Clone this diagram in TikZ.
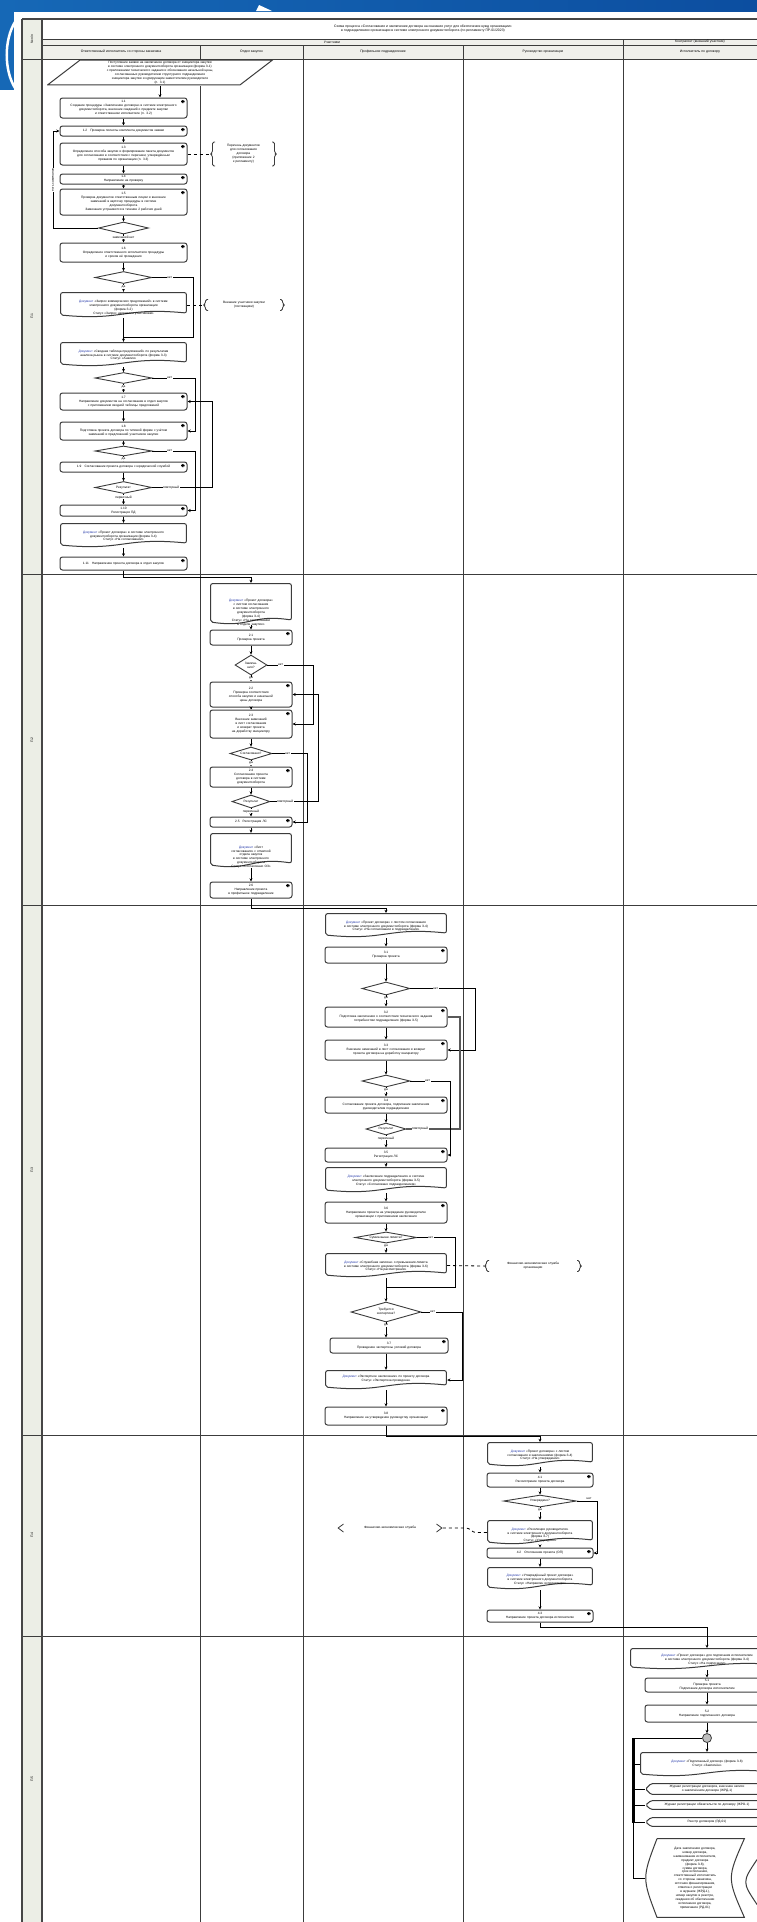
\documentclass[tikz,border=0pt]{standalone}
\usepackage{fontspec}
\setmainfont{Liberation Sans}
\usepackage{tikz}
\usetikzlibrary{shapes.geometric, arrows.meta, positioning, calc}
\definecolor{biruLatar}{RGB}{22,104,182}
\definecolor{biruTua}{RGB}{12,78,160}
\definecolor{abuKolom}{RGB}{236,238,230}
\definecolor{abuKepala}{RGB}{240,240,236}
\definecolor{abuGaris}{RGB}{60,60,60}
\definecolor{biruTeks}{RGB}{40,60,170}
\newcommand{\hurufKecil}{\fontsize{3.2}{3.9}\selectfont}
\newcommand{\hurufKepala}{\fontsize{3.4}{4.1}\selectfont}

\begin{document}
\begin{tikzpicture}[x=1pt, y=-1pt,
  kotakDasar/.style={align=center, font=\hurufKecil, inner sep=1pt, fill=white},
  garisTepi/.style={draw=abuGaris, line width=1pt},
  kotak/.style={kotakDasar, garisTepi, rounded corners=2.5pt,
    path picture={\fill[black] ([xshift=-2.5pt,yshift=-2pt]path picture bounding box.north east) rectangle ++(-3.5pt,-3pt);}},
  dokumen/.style={kotakDasar, text depth=7pt,
    path picture={\draw[garisTepi, rounded corners=2pt]
      ([xshift=0.6pt,yshift=-0.6pt]path picture bounding box.north west)
      -- ([xshift=-0.6pt,yshift=-0.6pt]path picture bounding box.north east)
      -- ([xshift=-0.6pt,yshift=5pt]path picture bounding box.south east)
      .. controls ([yshift=11pt]path picture bounding box.south) and ([yshift=-3pt]path picture bounding box.south)
      .. ([xshift=0.6pt,yshift=3pt]path picture bounding box.south west) -- cycle;}},
  masukan/.style={kotakDasar,
    path picture={\draw[garisTepi]
      ([xshift=0.6pt,yshift=0.6pt]path picture bounding box.south west)
      -- ([xshift=33pt,yshift=-0.6pt]path picture bounding box.north west)
      -- ([xshift=-0.6pt,yshift=-0.6pt]path picture bounding box.north east)
      -- ([xshift=-33pt,yshift=0.6pt]path picture bounding box.south east) -- cycle;}},
  keputusan/.style={diamond, aspect=4, draw=abuGaris, line width=0.9pt, fill=white,
    inner sep=0pt, font=\hurufKecil, align=center},
  catatan/.style={kotakDasar,
    path picture={\draw[draw=abuGaris, line width=0.8pt, rounded corners=1.5pt]
      ([xshift=5pt,yshift=-0.5pt]path picture bounding box.north west)
      -- ([xshift=2.5pt,yshift=-0.5pt]path picture bounding box.north west)
      -- ([xshift=2.5pt,yshift=1.5pt]path picture bounding box.west)
      -- ([xshift=0.5pt]path picture bounding box.west)
      -- ([xshift=2.5pt,yshift=-1.5pt]path picture bounding box.west)
      -- ([xshift=2.5pt,yshift=0.5pt]path picture bounding box.south west)
      -- ([xshift=5pt,yshift=0.5pt]path picture bounding box.south west);
      \draw[draw=abuGaris, line width=0.8pt, rounded corners=1.5pt]
      ([xshift=-5pt,yshift=-0.5pt]path picture bounding box.north east)
      -- ([xshift=-2.5pt,yshift=-0.5pt]path picture bounding box.north east)
      -- ([xshift=-2.5pt,yshift=1.5pt]path picture bounding box.east)
      -- ([xshift=-0.5pt]path picture bounding box.east)
      -- ([xshift=-2.5pt,yshift=-1.5pt]path picture bounding box.east)
      -- ([xshift=-2.5pt,yshift=0.5pt]path picture bounding box.south east)
      -- ([xshift=-5pt,yshift=0.5pt]path picture bounding box.south east);}},
  catatanSudut/.style={kotakDasar,
    path picture={\draw[draw=abuGaris, line width=0.8pt]
      ([xshift=6pt,yshift=-0.5pt]path picture bounding box.north west)
      -- ([xshift=0.6pt]path picture bounding box.west)
      -- ([xshift=6pt,yshift=0.5pt]path picture bounding box.south west);
      \draw[draw=abuGaris, line width=0.8pt]
      ([xshift=-6pt,yshift=-0.5pt]path picture bounding box.north east)
      -- ([xshift=-0.6pt]path picture bounding box.east)
      -- ([xshift=-6pt,yshift=0.5pt]path picture bounding box.south east);}},
  tampilan/.style={kotakDasar,
    path picture={\draw[garisTepi, rounded corners=1.5pt]
      ([xshift=6pt,yshift=-0.6pt]path picture bounding box.north west)
      -- ([xshift=-0.6pt,yshift=-0.6pt]path picture bounding box.north east)
      -- ([xshift=-0.6pt,yshift=0.6pt]path picture bounding box.south east)
      -- ([xshift=6pt,yshift=0.6pt]path picture bounding box.south west)
      -- ([xshift=0.6pt]path picture bounding box.west) -- cycle;}},
  simpan/.style={kotakDasar,
    path picture={\draw[garisTepi]
      ([xshift=12pt,yshift=-0.6pt]path picture bounding box.north west)
      -- ([xshift=-0.6pt,yshift=-0.6pt]path picture bounding box.north east)
      .. controls ([xshift=-18pt]path picture bounding box.east) .. ([xshift=-0.6pt,yshift=0.6pt]path picture bounding box.south east)
      -- ([xshift=12pt,yshift=0.6pt]path picture bounding box.south west)
      .. controls ([xshift=-3pt]path picture bounding box.west) .. ([xshift=12pt,yshift=-0.6pt]path picture bounding box.north west);}},
  titik/.style={circle, draw=abuGaris, line width=0.8pt, fill=gray!50, minimum size=9pt, inner sep=0pt},
  garis/.style={draw=black, line width=0.9pt},
  panah/.style={garis, -{Stealth[length=3.2pt, width=3pt]}},
  putus/.style={draw=black, line width=0.8pt, dashed},
  tebal/.style={draw=gray!70!black, line width=2.6pt},
  ket/.style={font=\hurufKecil, inner sep=0.5pt, fill=white},
  lajur1/.style={minimum width=127, text width=121},
  lajur2/.style={minimum width=82, text width=78},
  lajur3/.style={minimum width=122, text width=116},
  lajur4/.style={minimum width=106, text width=100},
  lajur5/.style={minimum width=124, text width=118},
  tepi/.style={draw=gray!55!black, line width=1.6pt},
  tabel/.style={draw=abuGaris, line width=0.7pt}
]
  \useasboundingbox (0,0) rectangle (757,1922);

  % latar biru
  \shade[left color=biruLatar, right color=biruTua] (0,0) rectangle (757,11);
  \fill[biruLatar] (0,0) rectangle (14,90);
  \fill[white] (256,11) -- (259,5) -- (272,11) -- cycle;
  \draw[white, line width=2.5pt] (15,22) .. controls (4,40) and (4,70) .. (15,88);

  % tabel
  \fill[abuKolom] (22,19) rectangle (42,1922);
  \fill[abuKepala] (42,39) rectangle (757,59);
  \draw[tabel] (42,39) -- (757,39);
  \draw[tabel] (42,45) -- (757,45);
  \draw[tabel] (22,59) -- (757,59);
  \foreach \y in {574,905,1435,1636} \draw[tabel] (22,\y) -- (757,\y);
  \foreach \x in {200,303,463} \draw[tabel] (\x,45) -- (\x,1922);
  \draw[tabel] (623,39) -- (623,1922);
  \draw[tepi] (22,19) -- (757,19);
  \draw[tepi] (22,19) -- (22,1922);
  \draw[tepi] (42,19) -- (42,1922);

  \node[font=\hurufKepala, rotate=90] (nomor) at (32,39) {№ п/п};
  \node[font=\hurufKepala, align=center] (judul) at (423,29)
    {Схема процесса «Согласование и заключение договора на оказание услуг для обеспечения нужд организации»\\
     в подразделениях организации в системе электронного документооборота (по регламенту ПР-01/2023)};
  \node[font=\hurufKepala, inner sep=0pt] (peserta) at (332,42) {Участники};
  \node[font=\hurufKepala, inner sep=0pt] (kontra) at (700,42) {Контрагент (внешний участник)};
  \node[font=\hurufKepala] (kol1) at (121,52) {Ответственный исполнитель со стороны заказчика};
  \node[font=\hurufKepala] (kol2) at (251.5,52) {Отдел закупок};
  \node[font=\hurufKepala] (kol3) at (383,52) {Профильное подразделение};
  \node[font=\hurufKepala] (kol4) at (543,52) {Руководство организации};
  \node[font=\hurufKepala] (kol5) at (700,52) {Исполнитель по договору};
  \node[font=\hurufKepala, rotate=90] (tahap1) at (32,316) {П.1};
  \node[font=\hurufKepala, rotate=90] (tahap2) at (32,740) {П.2};
  \node[font=\hurufKepala, rotate=90] (tahap3) at (32,1170) {П.3};
  \node[font=\hurufKepala, rotate=90] (tahap4) at (32,1535) {П.4};
  \node[font=\hurufKepala, rotate=90] (tahap5) at (32,1779) {П.5};

  % lajur 1
  \node[masukan, minimum width=226, minimum height=26, text width=150] (mulai) at (160,72.5)
    {Поступление заявки на заключение договора от инициатора закупки\\ в системе электронного документооборота организации (форма З-1)\\
     с приложением технического задания и обоснования начальной цены,\\ согласованных руководителем структурного подразделения\\
     инициатора закупки и курирующим заместителем руководителя\\ (п. 3.1)};
  \node[kotak, lajur1, minimum height=20] (a1) at (123.5,108)
    {1.1\\ Создание процедуры «Заключение договора» в системе электронного\\ документооборота, внесение сведений о предмете закупки\\ и ответственном исполнителе (п. 3.2)};
  \node[kotak, lajur1, minimum height=10] (a2) at (123.5,131) {1.2\quad Проверка полноты комплекта документов заявки};
  \node[kotak, lajur1, minimum height=22] (a3) at (123.5,154)
    {1.3\\ Определение способа закупки и формирование пакета документов\\ для согласования в соответствии с перечнем, утверждённым\\ приказом по организации (п. 3.3)};
  \node[catatan, minimum width=67, text width=54, minimum height=25] (cat1) at (243.5,154)
    {Перечень документов\\ для согласования\\ договора\\ (приложение 2\\ к регламенту)};
  \node[kotak, lajur1, minimum height=10] (a4) at (123.5,179) {1.4\\ Направление на проверку};
  \node[kotak, lajur1, minimum height=26] (a5) at (123.5,202)
    {1.5\\ Проверка документов ответственным лицом и внесение\\ замечаний в карточку процедуры в системе\\ документооборота\\ Замечания устраняются в течение 2 рабочих дней};
  \node[keputusan, minimum width=50, minimum height=12] (k1) at (123.5,228) {};
  \node[kotak, lajur1, minimum height=19] (a6) at (123.5,252.5)
    {1.6\\ Определение ответственного исполнителя процедуры\\ и сроков её проведения};
  \node[keputusan, minimum width=57, minimum height=12] (k2) at (123.5,277.5) {};
  \node[dokumen, lajur1, minimum height=26] (d1) at (123.5,305)
    {\textcolor{biruTeks}{Документ} «Запрос коммерческих предложений» в системе\\ электронного документооборота организации\\ (форма З-2)\\ Статус «Запрос направлен участникам»};
  \node[catatan, minimum width=82, text width=68, minimum height=12] (cat2) at (244,305)
    {Внешние участники закупки\\ (поставщики)};
  \coordinate (g1) at (123.5,337);
  \node[dokumen, lajur1, minimum height=25] (d2) at (123.5,354.5)
    {\textcolor{biruTeks}{Документ} «Сводная таблица предложений» по результатам\\ анализа рынка в системе документооборота (форма З-3)\\ Статус «Анализ»};
  \node[keputusan, minimum width=57, minimum height=11] (k3) at (123.5,378) {};
  \node[kotak, lajur1, minimum height=17] (a7) at (123.5,401.5)
    {1.7\\ Направление документов на согласование в отдел закупок\\ с приложением сводной таблицы предложений};
  \node[kotak, lajur1, minimum height=18] (a8) at (123.5,431)
    {1.8\\ Подготовка проекта договора по типовой форме с учётом\\ замечаний и предложений участников закупки};
  \node[keputusan, minimum width=57, minimum height=10] (k4) at (123.5,451) {};
  \node[kotak, lajur1, minimum height=10] (a9) at (123.5,467) {1.9\quad Согласование проекта договора с юридической службой};
  \node[keputusan, minimum width=57, minimum height=12] (k5) at (123.5,487.5) {Результат};
  \node[kotak, lajur1, minimum height=11] (a10) at (123.5,510.5) {1.10\\ Регистрация ПД};
  \node[dokumen, lajur1, minimum height=25] (d3) at (123.5,535.5)
    {\textcolor{biruTeks}{Документ} «Проект договора» в системе электронного\\ документооборота организации (форма З-4)\\ Статус «На согласовании»};
  \node[kotak, lajur1, minimum height=13] (a11) at (123.5,563.5) {1.11\quad Направление проекта договора в отдел закупок};

  \draw[panah] (mulai.south) -- (mulai.south |- a1.north);
  \draw[panah] (a1) -- (a2);
  \draw[panah] (a2) -- (a3);
  \draw[panah] (a3) -- (a4);
  \draw[panah] (a4) -- (a5);
  \draw[panah] (a5) -- (k1);
  \draw[panah] (k1) -- (a6);
  \draw[panah] (a6) -- (k2);
  \draw[panah] (k2) -- (d1);
  \draw[panah] (d1) -- (d2);
  \draw[panah] (d2) -- (k3);
  \draw[panah] (k3) -- (a7);
  \draw[panah] (a7) -- (a8);
  \draw[panah] (a8) -- (k4);
  \draw[panah] (k4) -- (a9);
  \draw[panah] (a9) -- (k5);
  \draw[panah] (k5) -- (a10);
  \draw[panah] (a10) -- (d3);
  \draw[panah] (d3) -- (a11);
  \draw[panah] (k1.west) -| (53,131) -- (a2.west);
  \draw[garis] (k2.east) -| (193,337) -- (g1);
  \draw[panah] (k3.east) -| (195,431) -- (a8.east);
  \draw[panah] (k4.east) -| (195,510.5) -- (a10.east);
  \draw[panah] (k5.east) -| (212,401.5) -- (a7.east);
  \draw[putus] (a3.east) -- (cat1.west);
  \draw[putus] (d1.east) -- (cat2.west);
  \node[ket, rotate=90] (l1a) at (53,180) {есть замечания};
  \node[ket, below=1pt of k1.south] (l1b) {замечаний нет};
  \node[ket, right=14pt of k2.east] (l2a) {нет};
  \node[ket, below=1pt of k2.south] (l2b) {да};
  \node[ket, right=14pt of k3.east] (l3a) {нет};
  \node[ket, below=1pt of k3.south] (l3b) {да};
  \node[ket, right=14pt of k4.east] (l4a) {нет};
  \node[ket, below=0.5pt of k4.south] (l4b) {да};
  \node[ket, right=10pt of k5.east] (l5a) {повторный};
  \node[ket, below=1pt of k5.south] (l5b) {первичный};

  % lajur 2
  \coordinate (t12) at (251,577);
  \draw[panah] (a11.south) |- (t12) -- (251,583);
  \node[dokumen, lajur2, minimum height=42] (p1) at (251,604)
    {\textcolor{biruTeks}{Документ} «Проект договора»\\ с листом согласования\\ в системе электронного\\ документооборота\\ (форма З-4)\\ Статус «На согласовании\\ в отделе закупок»};
  \node[kotak, lajur2, minimum height=15] (p2) at (251,637.5) {2.1\\ Проверка проекта};
  \node[keputusan, aspect=2, minimum width=32, minimum height=20] (k6) at (251,665) {Замеча-\\ния?};
  \node[kotak, lajur2, minimum height=25] (p3) at (251,694.5)
    {2.2\\ Проверка соответствия\\ способа закупки и начальной\\ цены договора};
  \node[kotak, lajur2, minimum height=28] (p4) at (251,724)
    {2.3\\ Внесение замечаний\\ в лист согласования\\ и возврат проекта\\ на доработку инициатору};
  \node[keputusan, minimum width=42, minimum height=13] (k7) at (251,753.5) {Согласовано?};
  \node[kotak, lajur2, minimum height=20] (p5) at (251,777)
    {2.4\\ Согласование проекта\\ договора в системе\\ документооборота};
  \node[keputusan, minimum width=38, minimum height=13] (k8) at (251,801.5) {Результат};
  \node[kotak, lajur2, minimum height=10] (p6) at (251,822) {2.5\quad Регистрация ЛС};
  \node[dokumen, lajur2, minimum height=35] (p7) at (251,850.5)
    {\textcolor{biruTeks}{Документ} «Лист\\ согласования» с отметкой\\ отдела закупок\\ в системе электронного\\ документооборота\\ Статус «Согласовано ОЗ»};
  \node[kotak, lajur2, minimum height=16] (p8) at (251,890)
    {2.6\\ Направление проекта\\ в профильное подразделение};

  \draw[panah] (p1) -- (p2);
  \draw[panah] (p2) -- (k6);
  \draw[panah] (k6) -- (p3);
  \draw[panah] (p3) -- (p4);
  \draw[panah] (p4) -- (k7);
  \draw[panah] (k7) -- (p5);
  \draw[panah] (p5) -- (k8);
  \draw[panah] (k8) -- (p6);
  \draw[panah] (p6) -- (p7);
  \draw[panah] (p7) -- (p8);
  \draw[panah] (k6.east) -| (313,724) -- (p4.east);
  \draw[panah] (k8.east) -| (318,694.5) -- (p3.east);
  \draw[panah] (k7.east) -| (307,822) -- (p6.east);
  \node[ket, right=10pt of k6.east] (l6a) {нет};
  \node[ket, below=1pt of k6.south] (l6b) {да};
  \node[ket, right=12pt of k7.east] (l7a) {нет};
  \node[ket, below=0.5pt of k7.south] (l7b) {да};
  \node[ket, right=6pt of k8.east] (l8a) {повторный};
  \node[ket, below=0.5pt of k8.south] (l8b) {первичный};

  % lajur 3
  \coordinate (t23) at (386,908);
  \draw[panah] (p8.south) |- (t23) -- (386,913);
  \node[dokumen, lajur3, minimum height=25] (q1) at (386,925.5)
    {\textcolor{biruTeks}{Документ} «Проект договора» с листом согласования\\ в системе электронного документооборота (форма З-4)\\ Статус «На согласовании в подразделении»};
  \node[kotak, lajur3, minimum height=16] (q2) at (386,955) {3.1\\ Проверка проекта};
  \node[keputusan, minimum width=48, minimum height=13] (k9) at (386,988.5) {};
  \node[kotak, lajur3, minimum height=20] (q3) at (386,1017)
    {3.2\\ Подготовка заключения о соответствии технического задания\\ потребностям подразделения (форма З-5)};
  \node[kotak, lajur3, minimum height=20] (q4) at (386,1050)
    {3.3\\ Внесение замечаний в лист согласования и возврат\\ проекта договора на доработку инициатору};
  \node[keputusan, minimum width=48, minimum height=12] (k10) at (386,1081) {};
  \node[kotak, lajur3, minimum height=16] (q5) at (386,1105)
    {3.4\\ Согласование проекта договора, подписание заключения\\ руководителем подразделения};
  \node[keputusan, minimum width=40, minimum height=12] (k11) at (386,1129) {Результат};
  \node[kotak, lajur3, minimum height=14] (q6) at (386,1155) {3.5\\ Регистрация ЛС};
  \node[dokumen, lajur3, minimum height=26] (q7) at (386,1180)
    {\textcolor{biruTeks}{Документ} «Заключение подразделения» в системе\\ электронного документооборота (форма З-5)\\ Статус «Согласовано подразделением»};
  \node[kotak, lajur3, minimum height=21] (q8) at (386,1212.5)
    {3.6\\ Направление проекта на утверждение руководителю\\ организации с приложением заключения};
  \node[keputusan, minimum width=62, minimum height=11] (k12) at (386,1237.5) {Сумма выше лимита?};
  \node[dokumen, lajur3, minimum height=25] (q9) at (386,1265.5)
    {\textcolor{biruTeks}{Документ} «Служебная записка» о превышении лимита\\ в системе электронного документооборота (форма З-6)\\ Статус «На рассмотрении»};
  \node[catatan, minimum width=98, text width=84, minimum height=12] (cat3) at (533,1266)
    {Финансово-экономическая служба\\ организации};
  \coordinate (g3) at (386,1287);
  \node[keputusan, aspect=3, minimum width=70, minimum height=20] (k13) at (386,1312) {Требуется\\ экспертиза?};
  \node[kotak, lajur3, minimum width=112, minimum height=15] (q10) at (389,1345.5)
    {3.7\\ Проведение экспертизы условий договора};
  \node[dokumen, lajur3, minimum height=20] (q11) at (386,1380)
    {\textcolor{biruTeks}{Документ} «Экспертное заключение» по проекту договора\\ Статус «Экспертиза проведена»};
  \node[kotak, lajur3, minimum height=18] (q12) at (386,1416)
    {3.8\\ Направление на утверждение руководству организации};

  \draw[panah] (q1) -- (q2);
  \draw[panah] (q2) -- (k9);
  \draw[panah] (k9) -- (q3);
  \draw[panah] (q3) -- (q4);
  \draw[panah] (q4) -- (k10);
  \draw[panah] (k10) -- (q5);
  \draw[panah] (q5) -- (k11);
  \draw[panah] (k11) -- (q6);
  \draw[panah] (q6) -- (q7);
  \draw[panah] (q7) -- (q8);
  \draw[panah] (q8) -- (k12);
  \draw[panah] (k12) -- (q9);
  \draw[panah] (q9) -- (k13);
  \draw[panah] (k13) -- (k13.south |- q10.north);
  \draw[panah] (k13.south |- q10.south) -- (k13.south |- q11.north);
  \draw[panah] (q11) -- (q12);
  \draw[panah] (k9.east) -| (475,1050) -- (q4.east);
  \draw[tebal] (k11.east) -| (460,1017) -- (q3.east);
  \draw[panah] (k10.east) -| (450,1155) -- (q6.east);
  \draw[garis] (k12.east) -| (455,1287) -- (g3);
  \draw[panah] (k13.east) -| (462,1380) -- (q11.east);
  \draw[putus] (q9.east) -- (cat3.west);
  \node[ket, right=22pt of k9.east] (l9a) {нет};
  \node[ket, below=1pt of k9.south] (l9b) {да};
  \node[ket, right=14pt of k10.east] (l10a) {нет};
  \node[ket, below=0.5pt of k10.south] (l10b) {да};
  \node[ket, right=5pt of k11.east] (l11a) {повторный};
  \node[ket, below=0.5pt of k11.south] (l11b) {первичный};
  \node[ket, right=10pt of k12.east] (l12a) {нет};
  \node[ket, below=0.5pt of k12.south] (l12b) {да};
  \node[ket, right=8pt of k13.east] (l13a) {нет};
  \node[ket, below=1pt of k13.south] (l13b) {да};

  % lajur 4
  \coordinate (t34) at (540,1436);
  \draw[panah] (q12.south) |- (t34) -- (540,1442);
  \node[dokumen, lajur4, minimum height=25] (r1) at (540,1454.5)
    {\textcolor{biruTeks}{Документ} «Проект договора» с листом\\ согласования и заключениями (форма З-4)\\ Статус «На утверждении»};
  \node[kotak, lajur4, minimum height=14] (r2) at (540,1480) {4.1\\ Рассмотрение проекта договора};
  \node[keputusan, minimum width=73, minimum height=12] (k14) at (540,1501) {Утверждено?};
  \node[dokumen, lajur4, minimum height=25] (r3) at (540,1532.5)
    {\textcolor{biruTeks}{Документ} «Резолюция руководителя»\\ в системе электронного документооборота\\ (форма З-7)\\ Статус «Утверждено»};
  \node[catatanSudut, minimum width=105, text width=90, minimum height=9] (cat4) at (390,1528)
    {Финансово-экономическая служба};
  \node[kotak, lajur4, minimum height=10] (r4) at (540,1553) {4.2\quad Отклонение проекта (ОП)};
  \node[dokumen, lajur4, minimum height=23] (r5) at (540,1578.5)
    {\textcolor{biruTeks}{Документ} «Утверждённый проект договора»\\ в системе электронного документооборота\\ Статус «Направлен исполнителю»};
  \node[kotak, lajur4, minimum height=12] (r6) at (540,1616) {4.3\\ Направление проекта договора исполнителю};

  \draw[panah] (r1) -- (r2);
  \draw[panah] (r2) -- (k14);
  \draw[panah] (k14) -- (r3);
  \draw[panah] (r3) -- (r4);
  \draw[panah] (r4) -- (r5);
  \draw[panah] (r5) -- (r6);
  \draw[panah] (k14.east) -| (597,1553) -- (r4.east);
  \draw[putus] (r3.west) -- (476,1532.5) to[out=180,in=0] (466,1528) -- (cat4.east);
  \node[ket, above right=0.5pt and 9pt of k14.east] (l14a) {нет};
  \node[ket, below=0.5pt of k14.south] (l14b) {да};

  % lajur 5
  \coordinate (t45) at (707,1627);
  \draw[panah] (r6.south) |- (t45) -- (707,1648);
  \node[dokumen, lajur5, minimum width=154, text width=140, minimum height=22] (s1) at (707,1659)
    {\textcolor{biruTeks}{Документ} «Проект договора» для подписания исполнителем\\ в системе электронного документооборота (форма З-4)\\ Статус «На подписании»};
  \node[kotak, lajur5, minimum height=14] (s2) at (707,1685)
    {5.1\\ Проверка проекта\\ Подписание договора исполнителем};
  \node[kotak, lajur5, minimum height=17] (s3) at (707,1713.5)
    {5.2\\ Направление подписанного договора};
  \node[titik] (gabung) at (707,1738) {};
  \node[dokumen, lajur5, minimum width=134, text width=120, minimum height=25] (s4) at (707,1764.5)
    {\textcolor{biruTeks}{Документ} «Подписанный договор» (форма З-8)\\ Статус «Заключён»};
  \node[tampilan, lajur5, minimum height=12] (s5a) at (707,1789)
    {Журнал регистрации договоров, внесение записи\\ о заключённом договоре (ЖРД-1)};
  \node[tampilan, lajur5, minimum height=10] (s5b) at (707,1805)
    {Журнал регистрации обязательств по договору (ЖРО-1)};
  \node[tampilan, lajur5, minimum height=10] (s5c) at (707,1822)
    {Реестр договоров (РД-01)};
  \node[simpan, minimum width=100, text width=70, minimum height=80] (s6) at (695,1878)
    {Дата заключения договора,\\ номер договора,\\ наименование исполнителя,\\ предмет договора\\ (форма З-8),\\ сумма договора,\\ срок исполнения,\\ ответственный исполнитель\\ со стороны заказчика,\\ источник финансирования,\\ отметка о регистрации\\ в журнале (ЖРД-1),\\ номер закупки в реестре,\\ сведения об обеспечении\\ исполнения договора,\\ примечание (РД-01)};
  \node[simpan, minimum width=110, minimum height=46] (s6b) at (800,1882) {};
  \coordinate (bar1) at (633,1738);
  \coordinate (bar2) at (633,1823);

  \draw[panah] (s1) -- (s2);
  \draw[panah] (s2) -- (s3);
  \draw[panah] (s3) -- (gabung);
  \draw[panah] (gabung) -- (s4);
  \draw[garis] (gabung.west) -- (bar1);
  \draw[line width=3pt] (bar1) -- (bar2);
  \draw[garis] (bar1 |- s4.west) -- (s4.west);
  \draw[garis] (bar1 |- s5a.west) -- (s5a.west);
  \draw[garis] (bar1 |- s5b.west) -- (s5b.west);
  \draw[garis] (bar1 |- s5c.west) -- (s5c.west);
  \draw[garis] (bar2) -- (bar2 |- s6.west) -- (s6.west);
\end{tikzpicture}
\end{document}
